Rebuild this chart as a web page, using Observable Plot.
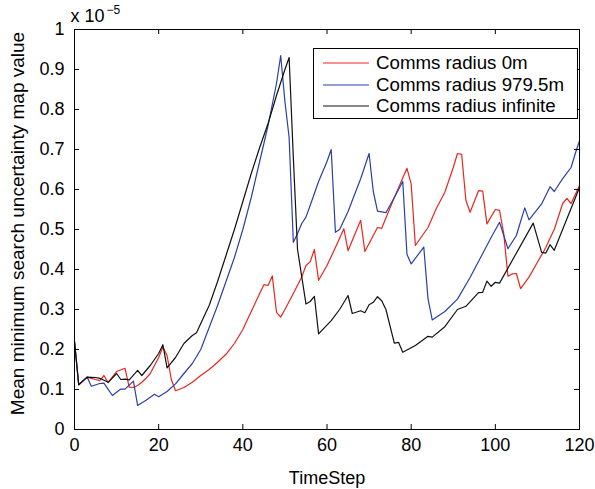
<!DOCTYPE html>
<html>
<head>
<meta charset="utf-8">
<script src="https://cdn.jsdelivr.net/npm/d3@7"></script>
<script src="https://cdn.jsdelivr.net/npm/@observablehq/plot@0.6"></script>
<style>
  body { margin: 0; background: #fff; }
  #wrap { position: relative; width: 595px; height: 489px; font-family: "Liberation Sans", Arial, Helvetica, sans-serif; }
  #legend { position: absolute; left: 313px; top: 48px; width: 265px; height: 71px; border: 1px solid #000; background: #fff; box-sizing: border-box; }
  .row { position: absolute; left: 0; height: 20px; width: 100%; }
  .sample { position: absolute; left: 9px; top: 4px; width: 46px; height: 12px; }
  .lbl { position: absolute; left: 62px; top: 0; line-height: 20px; font-size: 18.7px; color: #000; white-space: nowrap; }
</style>
</head>
<body>
<div id="wrap"></div>
<script>
// ---- data (values in units of 1e-5) ----
const seriesNames = ["Comms radius 0m", "Comms radius 979.5m", "Comms radius infinite"];
const seriesColors = ["#e8261e", "#2b3fa6", "#111111"];

const stepsR = [0,1,3,4,5,6,7,8,10,12,13,14,15,16,17,18,19,20,21,22,23,24,26,28,30,32,34,36,38,40,42,44,45,46,47,48,49,50,52,54,55,56,57,58,60,62,64,65,68,69,72,73,76,79,80,81,84,86,88,90,91,92,93,94,96,97,98,100,101,102,103,104,105,106,108,110,112,113,114,116,117,118,120];
const valuesR = [0.22,0.112,0.131,0.128,0.125,0.122,0.135,0.117,0.145,0.153,0.106,0.105,0.11,0.118,0.128,0.14,0.16,0.18,0.206,0.185,0.125,0.097,0.105,0.118,0.135,0.15,0.168,0.188,0.215,0.25,0.295,0.34,0.362,0.36,0.384,0.293,0.281,0.30,0.34,0.381,0.41,0.419,0.45,0.373,0.41,0.455,0.502,0.447,0.523,0.445,0.505,0.503,0.58,0.653,0.614,0.46,0.505,0.553,0.593,0.655,0.69,0.688,0.573,0.543,0.597,0.596,0.514,0.55,0.548,0.49,0.383,0.389,0.39,0.352,0.381,0.418,0.455,0.478,0.5,0.565,0.578,0.565,0.61];

const stepsB = [0,1,3,4,6,7,9,11,12,14,15,17,19,20,22,24,26,28,30,32,34,36,38,40,42,44,46,48,49,50,51,52,53,54,55,56,58,60,61,62,63,65,68,70,71,72,74,76,78,79,80,83,84,85,88,91,94,97,99,101,103,105,106,107,108,111,113,114,116,118,119,120];
const valuesB = [0.22,0.112,0.131,0.108,0.115,0.116,0.085,0.101,0.101,0.121,0.06,0.073,0.088,0.082,0.095,0.114,0.14,0.165,0.2,0.255,0.31,0.37,0.43,0.50,0.58,0.67,0.76,0.865,0.935,0.82,0.73,0.468,0.49,0.515,0.531,0.56,0.62,0.67,0.70,0.493,0.50,0.545,0.627,0.69,0.595,0.546,0.542,0.58,0.62,0.438,0.414,0.456,0.327,0.274,0.295,0.326,0.38,0.44,0.48,0.518,0.452,0.485,0.52,0.554,0.524,0.564,0.607,0.595,0.627,0.655,0.69,0.722];

const stepsK = [0,1,3,5,6,8,10,11,12,13,15,16,18,20,21,22,24,26,28,29,30,32,34,36,38,40,42,44,46,48,50,51,52,53,55,56,57,58,61,63,65,66,68,69,70,71,72,73,74,76,77,78,81,84,85,88,91,93,96,97,98,99,100,101,109,111,112,113,114,120];
const valuesK = [0.22,0.112,0.131,0.13,0.128,0.118,0.14,0.125,0.126,0.124,0.148,0.135,0.16,0.19,0.212,0.154,0.18,0.215,0.235,0.242,0.265,0.31,0.37,0.435,0.50,0.57,0.64,0.705,0.765,0.835,0.90,0.93,0.68,0.45,0.314,0.32,0.333,0.239,0.272,0.30,0.335,0.29,0.297,0.292,0.312,0.318,0.332,0.322,0.30,0.216,0.218,0.193,0.21,0.233,0.231,0.257,0.30,0.308,0.342,0.343,0.371,0.358,0.368,0.366,0.516,0.443,0.441,0.462,0.448,0.605];

const xTicks = [0, 20, 40, 60, 80, 100, 120];
const yTicks = [0, 0.1, 0.2, 0.3, 0.4, 0.5, 0.6, 0.7, 0.8, 0.9, 1];
const xTitle = "TimeStep";
const yTitle = "Mean minimum search uncertainty map value";
const expBase = "x 10";
const expPower = "\u22125";

// ---- build table ----
const seriesSteps = [stepsR, stepsB, stepsK];
const seriesValues = [valuesR, valuesB, valuesK];
const rows = [];
seriesNames.forEach((name, i) => {
  seriesSteps[i].forEach((t, j) => rows.push({series: name, t, v: seriesValues[i][j]}));
});

const font = "Liberation Sans, Arial, Helvetica, sans-serif";
const innerH = 489 - 29 - 60;
const innerW = 595 - 74 - 16;
const tl = 5;

const chart = Plot.plot({
  width: 595,
  height: 489,
  marginLeft: 74,
  marginRight: 16,
  marginTop: 29,
  marginBottom: 60,
  style: {fontFamily: font, fontSize: "18px", background: "white", color: "black", overflow: "visible"},
  x: {domain: [0, 120]},
  y: {domain: [0, 1]},
  color: {domain: seriesNames, range: seriesColors},
  marks: [
    Plot.axisX({ticks: xTicks, tickSize: 0, tickPadding: 9, label: null, fontSize: 18, tickFormat: d => String(d)}),
    Plot.axisY({ticks: yTicks, tickSize: 0, tickPadding: 10, label: null, fontSize: 18, tickFormat: d => String(+d.toFixed(1))}),
    Plot.line(rows, {x: "t", y: "v", z: "series", stroke: "series", strokeWidth: 1.2}),
    Plot.tickX(xTicks, {x: d => d, insetTop: innerH - tl, stroke: "black"}),
    Plot.tickX(xTicks, {x: d => d, insetBottom: innerH - tl, stroke: "black"}),
    Plot.tickY(yTicks, {y: d => d, insetRight: innerW - tl, stroke: "black"}),
    Plot.tickY(yTicks, {y: d => d, insetLeft: innerW - tl, stroke: "black"}),
    Plot.frame({stroke: "black", strokeWidth: 1}),
    Plot.text([xTitle], {text: d => d, frameAnchor: "bottom", dy: 49, lineAnchor: "middle", fontSize: 18}),
    Plot.text([yTitle], {text: d => d, frameAnchor: "left", textAnchor: "middle", rotate: -90, dx: -57, dy: -6, lineAnchor: "middle", fontSize: 19}),
    Plot.text([expBase], {text: d => d, frameAnchor: "top-left", textAnchor: "start", dx: -4, dy: -13, lineAnchor: "middle", fontSize: 18}),
    Plot.text([expPower], {text: d => d, frameAnchor: "top-left", textAnchor: "start", dx: 32, dy: -19, lineAnchor: "middle", fontSize: 12})
  ]
});

const wrap = document.getElementById("wrap");
wrap.appendChild(chart);

// ---- legend (inside the axes, top-right) ----
const legend = document.createElement("div");
legend.id = "legend";
const rowCenters = [14, 35.5, 57];
const svgNS = "http://www.w3.org/2000/svg";
seriesNames.forEach((name, i) => {
  const r = document.createElement("div");
  r.className = "row";
  r.style.top = (rowCenters[i] - 10) + "px";
  const s = document.createElementNS(svgNS, "svg");
  s.setAttribute("class", "sample");
  s.setAttribute("width", "46");
  s.setAttribute("height", "12");
  const ln = document.createElementNS(svgNS, "line");
  ln.setAttribute("x1", "0"); ln.setAttribute("x2", "46");
  ln.setAttribute("y1", "6"); ln.setAttribute("y2", "6");
  ln.setAttribute("stroke", seriesColors[i]);
  ln.setAttribute("stroke-width", "1.2");
  s.appendChild(ln);
  const l = document.createElement("div");
  l.className = "lbl";
  l.textContent = name;
  r.appendChild(s);
  r.appendChild(l);
  legend.appendChild(r);
});
wrap.appendChild(legend);
</script>
</body>
</html>
